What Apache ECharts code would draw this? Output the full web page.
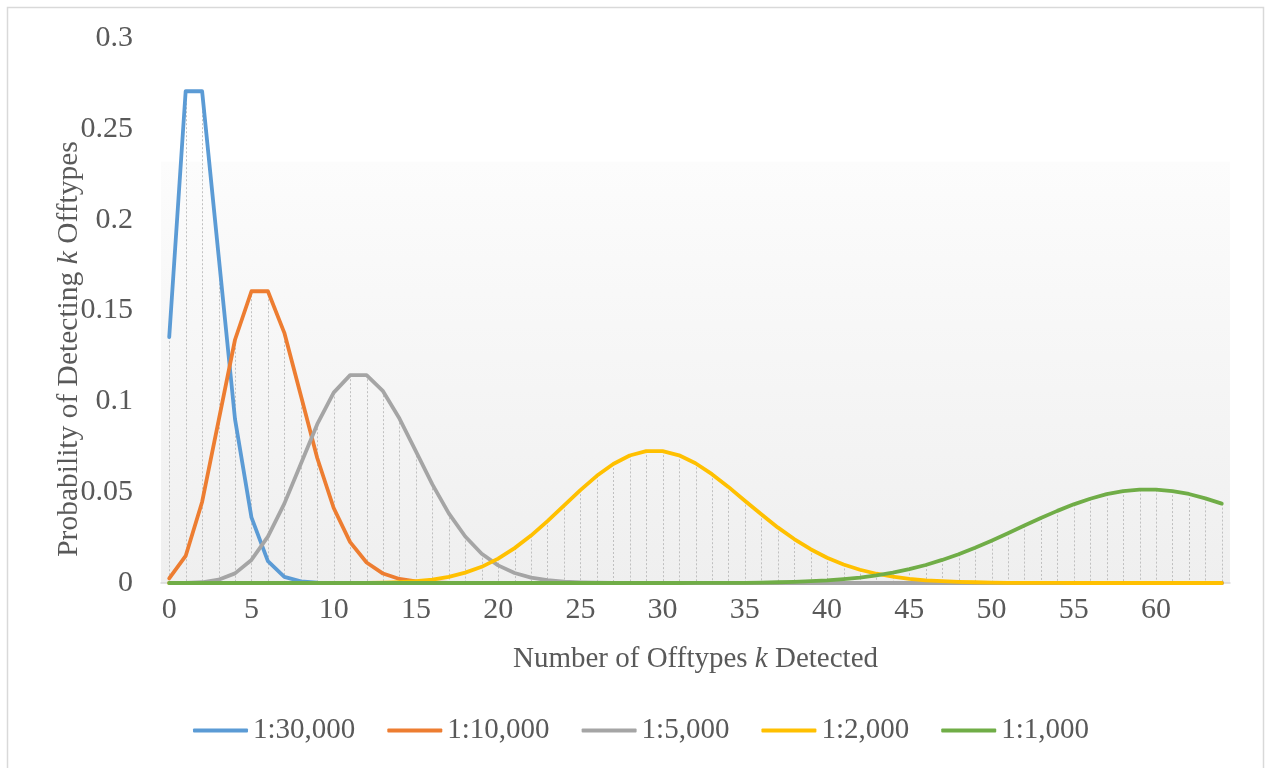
<!DOCTYPE html>
<html>
<head>
<meta charset="utf-8">
<script src="https://cdn.jsdelivr.net/npm/echarts@6/dist/echarts.min.js"></script>
<style>
html,body{margin:0;padding:0;background:#fff;}
#chart{width:1265px;height:768px;}
</style>
</head>
<body>
<div id="chart"></div>
<script>
var categories = [0,1,2,3,4,5,6,7,8,9,10,11,12,13,14,15,16,17,18,19,20,21,22,23,24,25,26,27,28,29,30,31,32,33,34,35,36,37,38,39,40,41,42,43,44,45,46,47,48,49,50,51,52,53,54,55,56,57,58,59,60,61,62,63,64];
var yTicks = [0,0.05,0.1,0.15,0.2,0.25,0.3];
var seriesNames = ['1:30,000','1:10,000','1:5,000','1:2,000','1:1,000'];

var s30000 = [0.1353,0.2707,0.2707,0.1804,0.0902,0.0361,0.0120,0.0034,0.0009,0.0002,0.00004,0.00001,
  0,0,0,0,0,0,0,0,0,0,0,0,0,0,0,0,0,0,0,0,0,0,0,0,0,0,0,0,0,0,0,0,0,0,0,0,0,0,0,0,0,0,0,0,0,0,0,0,0,0,0,0,0];
var s10000 = [0.0025,0.0149,0.0446,0.0892,0.1339,0.1606,0.1606,0.1377,0.1033,0.0688,0.0413,0.0225,0.0113,0.0052,0.0022,0.0009,0.0003,0.0001,
  0,0,0,0,0,0,0,0,0,0,0,0,0,0,0,0,0,0,0,0,0,0,0,0,0,0,0,0,0,0,0,0,0,0,0,0,0,0,0,0,0,0,0,0,0,0,0];
var s5000 = [0.00001,0.00007,0.0004,0.0018,0.0053,0.0127,0.0255,0.0437,0.0655,0.0874,0.1048,0.1144,0.1144,0.1056,0.0905,0.0724,0.0543,0.0383,0.0256,0.0161,0.0097,0.0055,0.0030,0.0016,0.0008,0.0004,0.0002,0.0001,0.00003,0.00001,0.00001,
  0,0,0,0,0,0,0,0,0,0,0,0,0,0,0,0,0,0,0,0,0,0,0,0,0,0,0,0,0,0,0,0,0,0];
var s2000 = [0,0,0,0,0,0,0,0,0,
  0.000005,0.000015,0.00004,0.0001,0.0002,0.0005,0.0010,0.0019,0.0034,0.0057,0.0089,0.0134,0.0192,0.0261,0.0341,0.0426,0.0511,0.0590,0.0655,0.0702,0.0726,0.0726,0.0703,0.0659,0.0599,0.0529,0.0453,0.0378,0.0306,0.0242,0.0186,0.0139,0.0102,0.0073,0.0051,0.0035,0.0023,0.0015,0.0010,0.0006,0.0004,0.0002,0.0001,0.00008,0.00004,0.00002,0.00001,0.00001,
  0,0,0,0,0,0,0,0];
var s1000 = [0,0,0,0,0,0,0,0,0,0,0,0,0,0,0,0,0,0,0,0,0,0,0,0,0,0,0,0,0,
  0.000004,0.000007,0.00001,0.00003,0.00005,0.00009,0.0001,0.0002,0.0004,0.0006,0.0010,0.0014,0.0021,0.0030,0.0042,0.0057,0.0076,0.0099,0.0127,0.0158,0.0194,0.0233,0.0274,0.0316,0.0358,0.0397,0.0433,0.0464,0.0489,0.0506,0.0514,0.0514,0.0506,0.0490,0.0466,0.0437];

var colors = ['#5B9BD5','#ED7D31','#A5A5A5','#FFC000','#70AD47'];
var allSeries = [s30000, s10000, s5000, s2000, s1000];

// drop-line heights: highest series value per category
var dropData = categories.map(function (c, i) {
  var m = 0;
  allSeries.forEach(function (s) { if (s[i] > m) m = s[i]; });
  return [i, m];
});

var FONT = 'Liberation Serif';
var TXT = '#595959';
var FS = 30;

var chart = echarts.init(document.getElementById('chart'));

var series = [{
  type: 'custom',
  name: 'drop',
  silent: true,
  z: 1,
  data: dropData,
  renderItem: function (params, api) {
    var top = api.coord([api.value(0), api.value(1)]);
    var bot = api.coord([api.value(0), 0]);
    return {
      type: 'line',
      shape: { x1: Math.round(top[0]) + 0.5, y1: top[1], x2: Math.round(bot[0]) + 0.5, y2: bot[1] },
      style: { stroke: '#c0c0c0', lineWidth: 1, lineDash: [2, 2] }
    };
  }
}];
allSeries.forEach(function (d, k) {
  series.push({
    type: 'line',
    name: seriesNames[k],
    data: d,
    showSymbol: false,
    symbol: 'none',
    z: 2 + k,
    lineStyle: { color: colors[k], width: 3.8, cap: 'round', join: 'round' },
    itemStyle: { color: colors[k] }
  });
});

chart.setOption({
  animation: false,
  backgroundColor: '#ffffff',
  grid: {
    left: 161, right: 35, top: 38, bottom: 185,
    show: true, borderWidth: 0,
    backgroundColor: new echarts.graphic.LinearGradient(0, 0, 0, 1, [
      { offset: 0, color: '#ffffff' },
      { offset: 0.226, color: '#ffffff' },
      { offset: 0.228, color: '#fcfcfc' },
      { offset: 1, color: '#efefef' }
    ])
  },
  legend: {
    left: 193, top: 716,
    padding: 0,
    data: seriesNames,
    icon: 'roundRect',
    itemWidth: 55, itemHeight: 4,
    itemGap: 32,
    textStyle: { fontFamily: FONT, fontSize: 29, color: TXT }
  },
  xAxis: {
    type: 'category',
    data: categories,
    boundaryGap: true,
    axisLine: { show: true, lineStyle: { color: '#d9d9d9', width: 1.5 } },
    axisTick: { show: false },
    axisLabel: { interval: 4, margin: 12, fontFamily: FONT, fontSize: FS, color: TXT },
    splitLine: { show: false },
    name: 'Number of Offtypes {i|k} Detected',
    nameLocation: 'middle',
    nameGap: 62,
    nameTextStyle: {
      fontFamily: FONT, fontSize: 29, color: TXT,
      rich: { i: { fontFamily: FONT, fontSize: 29, color: TXT, fontStyle: 'italic' } }
    }
  },
  yAxis: {
    type: 'value',
    min: 0, max: 0.3, interval: 0.05,
    axisLine: { show: false },
    axisTick: { show: false },
    splitLine: { show: false },
    axisLabel: {
      margin: 28, fontFamily: FONT, fontSize: FS, color: TXT,
      formatter: function (v) {
        for (var j = 0; j < yTicks.length; j++) { if (Math.abs(yTicks[j] - v) < 1e-9) return String(yTicks[j]); }
        return '';
      }
    }
  },
  graphic: [
    {
      type: 'rect', silent: true, z: -10,
      shape: { x: 7.5, y: 7.5, width: 1256, height: 780 },
      style: { fill: 'none', stroke: '#d9d9d9', lineWidth: 1.5 }
    },
    {
      type: 'text', silent: true,
      x: 69, y: 349, rotation: Math.PI / 2,
      style: {
        text: 'Probability of Detecting {i|k} Offtypes',
        fontFamily: FONT, fontSize: 29.5, fill: TXT,
        align: 'center', verticalAlign: 'middle',
        rich: { i: { fontFamily: FONT, fontSize: 29.5, fill: TXT, fontStyle: 'italic' } }
      }
    }
  ],
  series: series
});
</script>
</body>
</html>
